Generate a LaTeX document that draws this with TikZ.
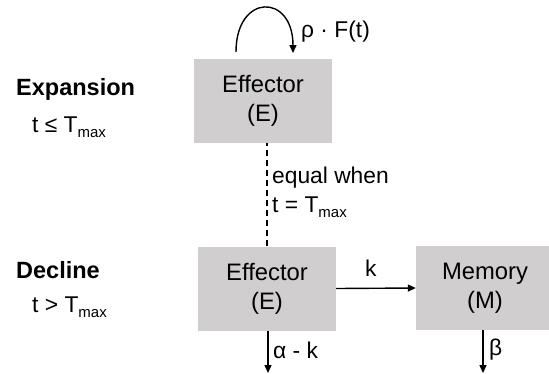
\documentclass[tikz,border=0pt]{standalone}
\usepackage{fontspec}
\setmainfont{Liberation Sans}
\usetikzlibrary{arrows.meta}
\definecolor{boxgray}{RGB}{208,206,206}
\newcommand{\sbmax}{\raisebox{-0.45ex}{\fontsize{15}{15}\selectfont max}}
\tikzset{
  box/.style={fill=boxgray, minimum width=138pt, minimum height=84pt, inner sep=0pt, align=center, font=\fontsize{23.8}{29}\selectfont},
  lbl/.style={font=\fontsize{22.8}{28}\selectfont, inner sep=0pt, anchor=west},
  ttl/.style={font=\fontsize{23.5}{28}\selectfont\bfseries, inner sep=0pt, anchor=west},
  conn/.style={line width=1.4pt, -{Triangle[length=8pt,width=7pt]}},
}
\begin{document}
\begin{tikzpicture}[x=1pt,y=-1pt]
\useasboundingbox (0,0) rectangle (549,373);
\node[box] (E1) at (263,101) {Effector\\(E)};
\node[box] (E2) at (267,288.5) {Effector\\(E)};
\node[box] (M) at (485,288) {Memory\\(M)};
\node[ttl] (exp) at (16,89) {Expansion};
\node[lbl] (c1) at (32,127) {t ≤ T\sbmax};
\node[ttl] (dec) at (16,270) {Decline};
\node[lbl] (c2) at (32,307) {t > T\sbmax};
\node[lbl] (rho) at (301,32) {ρ · F(t)};
\node[lbl] (eq1) at (272,178) {equal when};
\node[lbl] (eq2) at (272,207) {t = T\sbmax};
\node[lbl] (klbl) at (365,268) {k};
\node[lbl] (ak) at (273,350) {α - k};
\node[lbl] (beta) at (489,350) {β};
\coordinate (ls) at (236,52);
\coordinate (le) at (293,53);
\coordinate (d1) at (268,373);
\coordinate (d2) at (483,373);
\draw[conn] (ls) .. controls (236,-7) and (293,-7) .. (le);
\draw[line width=1.4pt, dash pattern=on 6pt off 4pt] (E2.north -| E1.south) ++(4,0) coordinate (dt) -- (dt |- E1.south);
\draw[conn] (E2.east) -- (M.west);
\draw[conn] (E2.south -| d1) -- (d1);
\draw[conn] (M.south -| d2) -- (d2);
\end{tikzpicture}
\end{document}
